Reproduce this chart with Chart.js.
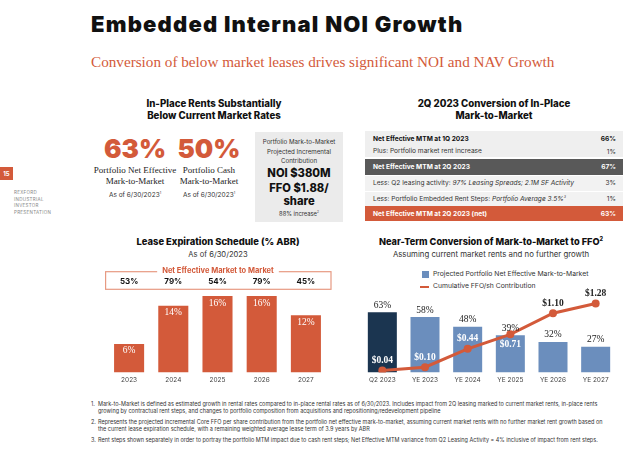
<!DOCTYPE html>
<html>
<head>
<meta charset="utf-8">
<script src="https://cdn.jsdelivr.net/npm/chart.js@4.4.0/dist/chart.umd.min.js"></script>
<style>
  body { margin: 0; width: 640px; height: 452px; position: relative; background: #fff; overflow: hidden; font-family: "Inter", "Liberation Sans", sans-serif; color: #222; }
  .t { position: absolute; white-space: nowrap; line-height: 1; }
  .c { text-align: center; }
  .hv { font-weight: 800; color: #111; }
  .serif { font-family: "Liberation Serif", serif; }
  .box { position: absolute; }
  .row { position: absolute; left: 365px; width: 258px; }
  .row span { position: absolute; white-space: nowrap; line-height: 1; font-size: 6.6px; }
  .row .l { left: 8px; }
  .row .r { right: 7px; }
  .b { font-weight: 700; }
  .foot { position: absolute; left: 91px; font-size: 5.5px; line-height: 7.2px; color: #333; white-space: nowrap; }
  .foot .n { position: absolute; left: 0; }
  .foot .tx { position: absolute; left: 7px; }
</style>
</head>
<body>

<div class="t hv" style="left:91px;top:13px;font-size:22px;font-weight:900;letter-spacing:1.2px;">Embedded Internal NOI Growth</div>
<div class="t serif" style="left:91px;top:54px;font-size:15.2px;color:#d35a3a;">Conversion of below market leases drives significant NOI and NAV Growth</div>

<div class="box" style="left:0;top:167px;width:13px;height:13px;background:#d35a3a;"></div>
<div class="t c" style="left:0;top:170.5px;width:13px;font-size:6px;font-weight:700;color:#fff;">15</div>
<div class="t" style="left:14px;top:191px;font-size:4.5px;color:#888;letter-spacing:0.3px;">REXFORD</div>
<div class="t" style="left:14px;top:197.5px;font-size:4.5px;color:#888;letter-spacing:0.3px;">INDUSTRIAL</div>
<div class="t" style="left:14px;top:204px;font-size:4.5px;color:#888;letter-spacing:0.3px;">INVESTOR</div>
<div class="t" style="left:14px;top:210.5px;font-size:4.5px;color:#888;letter-spacing:0.3px;">PRESENTATION</div>

<!-- in-place rents panel -->
<div class="t c hv" style="left:114px;width:200px;top:98.5px;font-size:9.7px;">In-Place Rents Substantially</div>
<div class="t c hv" style="left:114px;width:200px;top:110.5px;font-size:9.7px;">Below Current Market Rates</div>
<div class="t c" style="left:95px;width:80px;top:135.5px;font-size:26px;font-weight:900;color:#d35a3a;">63%</div>
<div class="t c" style="left:169px;width:80px;top:135.5px;font-size:26px;font-weight:900;color:#d35a3a;">50%</div>
<div class="t c serif" style="left:85px;width:100px;top:165.5px;font-size:9px;">Portfolio Net Effective</div>
<div class="t c serif" style="left:85px;width:100px;top:177px;font-size:9px;">Mark-to-Market</div>
<div class="t c serif" style="left:159px;width:100px;top:165.5px;font-size:9px;">Portfolio Cash</div>
<div class="t c serif" style="left:159px;width:100px;top:177px;font-size:9px;">Mark-to-Market</div>
<div class="t c" style="left:85px;width:100px;top:191.5px;font-size:6.5px;color:#333;">As of 6/30/2023<sup style="font-size:3.5px">1</sup></div>
<div class="t c" style="left:159px;width:100px;top:191.5px;font-size:6.5px;color:#333;">As of 6/30/2023<sup style="font-size:3.5px">1</sup></div>

<div class="box" style="left:255px;top:131.5px;width:88px;height:90px;background:#ebebeb;"></div>
<div class="t c" style="left:255px;width:88px;top:138.5px;font-size:6.2px;color:#333;">Portfolio Mark-to-Market</div>
<div class="t c" style="left:255px;width:88px;top:148.5px;font-size:6.2px;color:#333;">Projected Incremental</div>
<div class="t c" style="left:255px;width:88px;top:157.5px;font-size:6.2px;color:#333;">Contribution</div>
<div class="t c hv" style="left:255px;width:88px;top:168px;font-size:11.2px;">NOI $380M</div>
<div class="t c hv" style="left:255px;width:88px;top:182.5px;font-size:11.2px;">FFO $1.88/</div>
<div class="t c hv" style="left:255px;width:88px;top:196px;font-size:11.2px;">share</div>
<div class="t c" style="left:255px;width:88px;top:210.5px;font-size:5.8px;color:#333;">88% increase<sup style="font-size:3.2px">2</sup></div>

<!-- conversion table -->
<div class="t c hv" style="left:394px;width:200px;top:98.5px;font-size:9.7px;">2Q 2023 Conversion of In-Place</div>
<div class="t c hv" style="left:394px;width:200px;top:110.5px;font-size:9.7px;">Mark-to-Market</div>

<div class="row" style="top:131px;height:26px;background:#efefef;">
  <span class="l b" style="top:5px;color:#111;">Net Effective MTM at 1Q 2023</span>
  <span class="r b" style="top:5px;color:#111;">66%</span>
  <span class="l" style="top:16.8px;color:#333;">Plus: Portfolio market rent increase</span>
  <span class="r" style="top:17.5px;color:#333;">1%</span>
</div>
<div class="row" style="top:159.3px;height:15.7px;background:#595959;">
  <span class="l b" style="top:5.2px;color:#fff;">Net Effective MTM at 2Q 2023</span>
  <span class="r b" style="top:5.2px;color:#fff;">67%</span>
</div>
<div class="row" style="top:176px;height:14.5px;background:#f2f2f2;">
  <span class="l" style="top:4px;color:#333;">Less: Q2 leasing activity: <i>97% Leasing Spreads; 2.1M SF Activity</i></span>
  <span class="r" style="top:4px;color:#333;">3%</span>
</div>
<div class="row" style="top:191.5px;height:14.2px;background:#f2f2f2;">
  <span class="l" style="top:4px;color:#333;">Less: Portfolio Embedded Rent Steps: <i>Portfolio Average 3.5%<sup style="font-size:3.5px">3</sup></i></span>
  <span class="r" style="top:4px;color:#333;">1%</span>
</div>
<div class="row" style="top:205.7px;height:15.3px;background:#d35a3a;">
  <span class="l b" style="top:5.2px;color:#fff;">Net Effective MTM at 2Q 2023 (net)</span>
  <span class="r b" style="top:5.2px;color:#fff;">63%</span>
</div>

<!-- lease expiration -->
<div class="t c hv" style="left:118px;width:200px;top:236.5px;font-size:9.4px;">Lease Expiration Schedule (% ABR)</div>
<div class="t c" style="left:118px;width:200px;top:251px;font-size:7.6px;color:#333;">As of 6/30/2023</div>
<canvas id="leaseChart" width="228" height="130" style="position:absolute;left:105px;top:262px;"></canvas>

<!-- near-term conversion -->
<div class="t c hv" style="left:371px;width:240px;top:236.5px;font-size:9.2px;">Near-Term Conversion of Mark-to-Market to FFO<sup style="font-size:5.5px">2</sup></div>
<div class="t c" style="left:371px;width:240px;top:250.5px;font-size:7.8px;color:#333;">Assuming current market rents and no further growth</div>
<div class="box" style="left:422px;top:271px;width:7px;height:7px;background:#6b8ebd;"></div>
<div class="t" style="left:433px;top:271px;font-size:6.8px;color:#333;">Projected Portfolio Net Effective Mark-to-Market</div>
<div class="box" style="left:420px;top:285.5px;width:9px;height:2.5px;background:#d35a3a;"></div>
<div class="t" style="left:433px;top:283.4px;font-size:6.8px;color:#333;">Cumulative FFO/sh Contribution</div>
<canvas id="ffoChart" width="264" height="110" style="position:absolute;left:357px;top:280px;"></canvas>

<!-- footnotes -->
<div class="foot" style="top:400.5px;"><span class="n">1.</span><span class="tx">Mark-to-Market is defined as estimated growth in rental rates compared to in-place rental rates as of 6/30/2023. Includes impact from 2Q leasing marked to current market rents, in-place rents<br>growing by contractual rent steps, and changes to portfolio composition from acquisitions and repositioning/redevelopment pipeline</span></div>
<div class="foot" style="top:418.5px;"><span class="n">2.</span><span class="tx">Represents the projected incremental Core FFO per share contribution from the portfolio net effective mark-to-market, assuming current market rents with no further market rent growth based on<br>the current lease expiration schedule, with a remaining weighted average lease term of 3.9 years by ABR</span></div>
<div class="foot" style="top:437px;"><span class="n">3.</span><span class="tx">Rent steps shown separately in order to portray the portfolio MTM impact due to cash rent steps; Net Effective MTM variance from Q2 Leasing Activity = 4% inclusive of impact from rent steps.</span></div>

<script>
const leaseYears = ['2023', '2024', '2025', '2026', '2027'];
const leaseExpiringPct = [6, 14, 16, 16, 12];
const leaseMtmPct = [53, 79, 54, 79, 45];

const mtmPeriods = ['Q2 2023', 'YE 2023', 'YE 2024', 'YE 2025', 'YE 2026', 'YE 2027'];
const projectedMtmPct = [63, 58, 48, 39, 32, 27];
const cumulativeFfo = [0.04, 0.10, 0.44, 0.71, 1.10, 1.28];

const ORANGE = '#d35a3a';
const NAVY = '#1b3550';
const BLUE = '#6b8ebd';
const SERIF = '"Liberation Serif", serif';
const SANS = '"Inter", "Liberation Sans", sans-serif';

// where each FFO label sits relative to its point, and its colour
const ffoLabelBelow = [false, false, false, true, false, false];
const ffoLabelColor = ['#fff', '#fff', '#fff', '#fff', '#222', '#222'];

const xTicks = {
  font: { family: SANS, size: 6.5 },
  color: '#444',
  padding: 4
};

const leaseLabels = {
  id: 'leaseLabels',
  afterDatasetsDraw(chart) {
    const ctx = chart.ctx;
    const x = chart.scales.x;
    ctx.save();
    // outlined strip with the MTM per expiring year
    ctx.strokeStyle = '#e79a82';
    ctx.lineWidth = 1.2;
    ctx.strokeRect(0.6, 9.7, 225.4, 17.6);
    ctx.font = 'bold 7.5px ' + SANS;
    const title = 'Net Effective Market to Market';
    const tw = ctx.measureText(title).width;
    ctx.fillStyle = '#fff';
    ctx.fillRect(113 - tw / 2 - 5, 4, tw + 10, 10);
    ctx.fillStyle = ORANGE;
    ctx.textAlign = 'center';
    ctx.textBaseline = 'middle';
    ctx.fillText(title, 113, 9);
    ctx.font = 'bold 8px ' + SANS;
    ctx.fillStyle = '#111';
    leaseMtmPct.forEach((v, i) => {
      ctx.fillText(v + '%', x.getPixelForValue(i), 20);
    });
    // values inside the bars
    ctx.font = '9.5px ' + SERIF;
    ctx.fillStyle = '#fff';
    chart.getDatasetMeta(0).data.forEach((bar, i) => {
      ctx.fillText(leaseExpiringPct[i] + '%', bar.x, bar.y + 7);
    });
    ctx.restore();
  }
};

new Chart(document.getElementById('leaseChart'), {
  type: 'bar',
  data: {
    labels: leaseYears,
    datasets: [{
      data: leaseExpiringPct,
      backgroundColor: ORANGE,
      categoryPercentage: 1,
      barPercentage: 0.68
    }]
  },
  options: {
    responsive: false,
    animation: false,
    layout: { padding: { left: 2, right: 5, top: 15, bottom: 3.6 } },
    plugins: { legend: { display: false }, tooltip: { enabled: false } },
    scales: {
      x: { grid: { display: false, drawTicks: false }, border: { display: false }, ticks: xTicks },
      y: { display: false, min: 0, max: 20 }
    }
  },
  plugins: [leaseLabels]
});

const ffoLabels = {
  id: 'ffoLabels',
  afterDatasetsDraw(chart) {
    const ctx = chart.ctx;
    ctx.save();
    ctx.textAlign = 'center';
    ctx.textBaseline = 'middle';
    ctx.font = '9.5px ' + SERIF;
    ctx.fillStyle = '#222';
    chart.getDatasetMeta(1).data.forEach((bar, i) => {
      ctx.fillText(projectedMtmPct[i] + '%', bar.x, bar.y - 7);
    });
    ctx.font = 'bold 9.5px ' + SERIF;
    chart.getDatasetMeta(0).data.forEach((pt, i) => {
      ctx.fillStyle = ffoLabelColor[i];
      const dy = ffoLabelBelow[i] ? 10 : -10;
      ctx.fillText('$' + cumulativeFfo[i].toFixed(2), pt.x, pt.y + dy);
    });
    ctx.restore();
  }
};

new Chart(document.getElementById('ffoChart'), {
  data: {
    labels: mtmPeriods,
    datasets: [
      {
        type: 'line',
        label: 'Cumulative FFO/sh Contribution',
        data: cumulativeFfo,
        yAxisID: 'y2',
        borderColor: ORANGE,
        backgroundColor: ORANGE,
        borderWidth: 3,
        pointRadius: 4,
        pointBackgroundColor: ORANGE,
        pointBorderWidth: 0,
        tension: 0,
        order: 1
      },
      {
        type: 'bar',
        label: 'Projected Portfolio Net Effective Mark-to-Market',
        data: projectedMtmPct,
        yAxisID: 'y',
        backgroundColor: projectedMtmPct.map((v, i) => i === 0 ? NAVY : BLUE),
        categoryPercentage: 1,
        barPercentage: 0.68,
        order: 2
      }
    ]
  },
  options: {
    responsive: false,
    animation: false,
    layout: { padding: { left: 0, right: 0, top: 16, bottom: 1.6 } },
    plugins: { legend: { display: false }, tooltip: { enabled: false } },
    scales: {
      x: { grid: { display: false, drawTicks: false }, border: { display: false }, ticks: xTicks },
      y: { display: false, min: 0, max: 80 },
      y2: { display: false, min: 0, max: 1.42 }
    }
  },
  plugins: [ffoLabels]
});
</script>
</body>
</html>
